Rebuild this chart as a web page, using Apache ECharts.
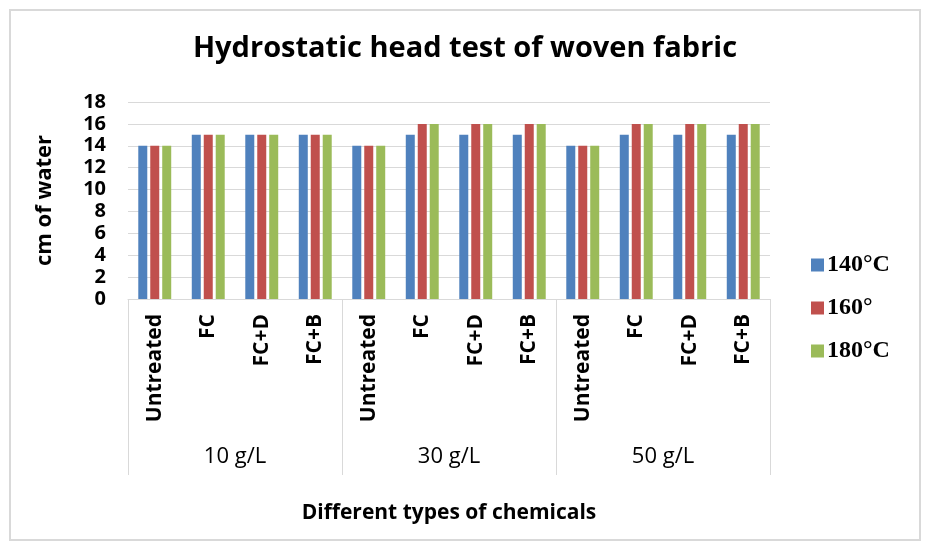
<!DOCTYPE html>
<html>
<head>
<meta charset="utf-8">
<script src="https://cdn.jsdelivr.net/npm/echarts@6/dist/echarts.min.js"></script>
<style>
html,body{margin:0;padding:0;background:#fff;}
#main{width:926px;height:545px;}
</style>
</head>
<body>
<div id="main"></div>
<script>
var categories = ['Untreated','FC','FC+D','FC+B','Untreated','FC','FC+D','FC+B','Untreated','FC','FC+D','FC+B'];
var groups = ['10 g/L','30 g/L','50 g/L'];
var seriesNames = ['140°C','160°','180°C'];
var s140 = [14,15,15,15,14,15,15,15,14,15,15,15];
var s160 = [14,15,15,15,14,16,16,16,14,16,16,16];
var s180 = [14,15,15,15,14,16,16,16,14,16,16,16];
var colors = ['#4f81bd','#c0504d','#9bbb59'];

var chart = echarts.init(document.getElementById('main'), null, {renderer:'canvas'});
var font = '"Open Sans", sans-serif';
var grey = '#d9d9d9';

function bar(name, data, color){
  return {
    name:name, type:'bar', data:data, xAxisIndex:0, yAxisIndex:0,
    barWidth:9, barGap:'33%',
    itemStyle:{color:color},
    emphasis:{disabled:true}
  };
}

chart.setOption({
  backgroundColor:'#fff',
  animation:false,
  color:colors,
  title:{
    text:'Hydrostatic head test of woven fabric',
    left:460, textAlign:'center', top:29,
    textStyle:{fontFamily:font, fontWeight:'bold', fontSize:29, color:'#000'}
  },
  legend:{
    orient:'vertical', left:811, top:253, padding:0,
    itemWidth:13, itemHeight:13, itemGap:19,
    icon:'rect',
    data:seriesNames,
    textStyle:{fontFamily:'"Liberation Serif", serif', fontWeight:'bold', fontSize:24, lineHeight:24, color:'#000', padding:[0,0,0,-2]}
  },
  grid:{left:128, right:156, top:102, bottom:246, containLabel:false},
  xAxis:[{
    type:'category', data:categories, position:'bottom',
    axisLine:{show:true, lineStyle:{color:grey, width:1}},
    axisTick:{show:false},
    axisLabel:{rotate:90, margin:15, interval:0, fontFamily:font, fontWeight:'bold', fontSize:21, color:'#000'},
    splitLine:{show:false}
  },{
    type:'category', data:groups, position:'bottom',
    axisLine:{show:false},
    axisTick:{show:true, length:176, lineStyle:{color:grey, width:1}},
    axisLabel:{margin:147, interval:0, fontFamily:font, fontSize:22, fontWeight:'normal', color:'#000'},
    name:'Different types of chemicals', nameLocation:'middle', nameGap:204,
    nameTextStyle:{fontFamily:font, fontWeight:'bold', fontSize:21, color:'#000'}
  }],
  yAxis:{
    type:'value', min:0, max:18, interval:2,
    axisLine:{show:false}, axisTick:{show:false},
    splitLine:{lineStyle:{color:grey, width:1}},
    axisLabel:{margin:22, fontFamily:font, fontWeight:'bold', fontSize:20, color:'#000'},
    name:'cm of water', nameLocation:'middle', nameRotate:90, nameGap:72,
    nameTextStyle:{fontFamily:font, fontWeight:'bold', fontSize:22, color:'#000'}
  },
  graphic:[{
    type:'rect', shape:{x:10, y:10, width:910, height:530},
    style:{fill:'none', stroke:grey, lineWidth:2}, silent:true
  }],
  series:[bar(seriesNames[0], s140, colors[0]), bar(seriesNames[1], s160, colors[1]), bar(seriesNames[2], s180, colors[2])]
});
</script>
</body>
</html>
